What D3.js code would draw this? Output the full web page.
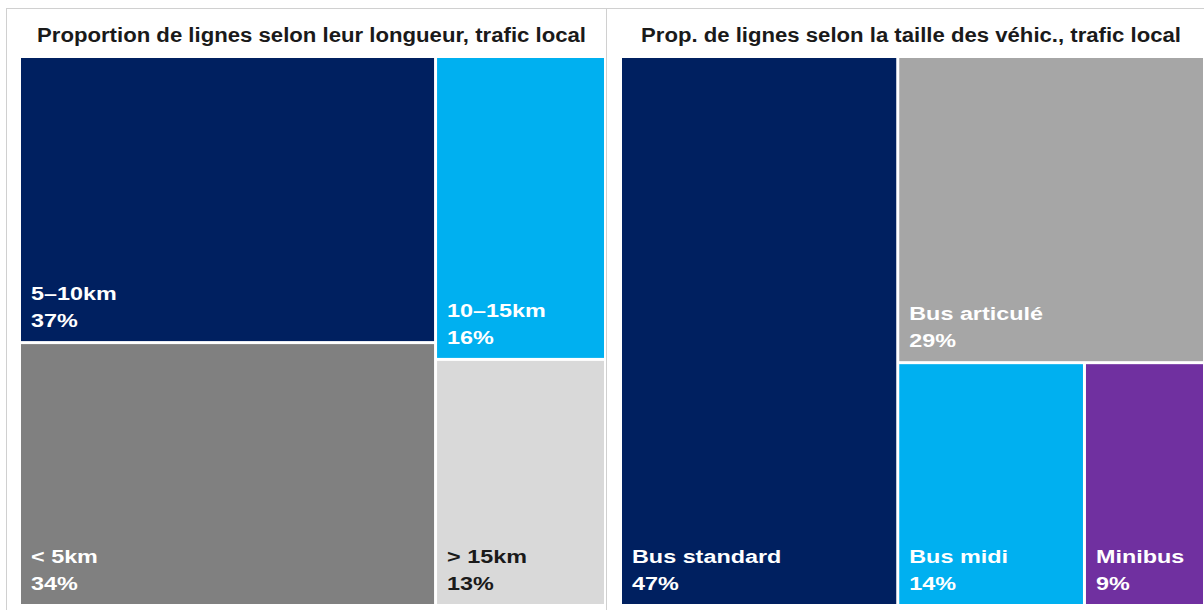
<!DOCTYPE html>
<html>
<head>
<meta charset="utf-8">
<script src="https://cdn.jsdelivr.net/npm/d3@7"></script>
<style>
  body { margin: 0; background: #fff; }
  text { font-family: "Liberation Sans", Arial, sans-serif; }
</style>
</head>
<body>
<script>
const WIDTH = 1204;
const HEIGHT = 610;

// left chart: line length
const lengthTitle = "Proportion de lignes selon leur longueur, trafic local";
const lengthLabels = ["5–10km", "< 5km", "10–15km", "> 15km"];
const lengthValues = [37, 34, 16, 13];
const lengthColors = ["#002060", "#808080", "#00b0f0", "#d9d9d9"];
const lengthTextColors = ["#fff", "#fff", "#fff", "#1a1a1a"];
const lengthGroup = [0, 0, 1, 1]; // column each tile belongs to

// right chart: vehicle size
const sizeTitle = "Prop. de lignes selon la taille des véhic., trafic local";
const sizeLabels = ["Bus standard", "Bus articulé", "Bus midi", "Minibus"];
const sizeValues = [47, 29, 14, 9];
const sizeColors = ["#002060", "#a6a6a6", "#00b0f0", "#7030a0"];
const sizeTextColors = ["#fff", "#fff", "#fff", "#fff"];
const sizeDepth = [0, 1, 2, 2]; // nesting level of each tile

var svg = d3.select("body").append("svg")
    .attr("width", WIDTH)
    .attr("height", HEIGHT);

// panel frames
svg.append("rect").attr("x", 6.5).attr("y", 8.5).attr("width", 600).attr("height", 620)
    .attr("fill", "none").attr("stroke", "#d0d0d0");
svg.append("rect").attr("x", 606.5).attr("y", 8.5).attr("width", 620).attr("height", 620)
    .attr("fill", "none").attr("stroke", "#d0d0d0");

// build tree for the length chart: two columns
function lengthTree() {
    var cols = d3.groups(lengthLabels.map((d, i) => i), i => lengthGroup[i]);
    return {
        children: cols.map(c => ({
            children: c[1].map(i => ({ idx: i, value: lengthValues[i] }))
        }))
    };
}

// build tree for the size chart: each tile nests one level deeper
function sizeTree() {
    var root = { children: [] };
    var levels = [root];
    sizeLabels.forEach((d, i) => {
        var lvl = sizeDepth[i];
        if (!levels[lvl]) {
            var g = { children: [] };
            levels[lvl - 1].children.push(g);
            levels[lvl] = g;
        }
        levels[lvl].children.push({ idx: i, value: sizeValues[i] });
    });
    return root;
}

function drawTreemap(data, box, labels, colors, textColors, title, titleX, titleLen) {
    var root = d3.hierarchy(data).sum(d => d.value || 0);
    d3.treemap()
        .tile(d3.treemapSliceDice)
        .paddingInner(3)
        .size([box[2] - box[0], box[3] - box[1]])
        (root);

    svg.append("text")
        .attr("x", titleX)
        .attr("y", 42)
        .attr("text-anchor", "middle")
        .attr("font-size", 20)
        .attr("font-weight", "bold")
        .attr("fill", "#1a1a1a")
        .attr("textLength", titleLen)
        .attr("lengthAdjust", "spacingAndGlyphs")
        .text(title);

    var leaves = svg.append("g")
        .attr("transform", `translate(${box[0]},${box[1]})`)
        .selectAll("g")
        .data(root.leaves())
        .join("g");

    leaves.append("rect")
        .attr("x", d => d.x0)
        .attr("y", d => d.y0)
        .attr("width", d => d.x1 - d.x0)
        .attr("height", d => d.y1 - d.y0)
        .attr("fill", d => colors[d.data.idx]);

    var txt = leaves.append("g")
        .attr("transform", d => `translate(${d.x0 + 10},${d.y1 - 41}) scale(1.25,1)`)
        .attr("fill", d => textColors[d.data.idx])
        .attr("font-size", 18.7)
        .attr("font-weight", "bold");
    txt.append("text").text(d => labels[d.data.idx]);
    txt.append("text").attr("y", 27).text(d => d.data.value + "%");
}

drawTreemap(lengthTree(), [21, 58, 604, 604], lengthLabels, lengthColors, lengthTextColors,
    lengthTitle, 311.5, 549);
drawTreemap(sizeTree(), [622, 58, 1203, 604], sizeLabels, sizeColors, sizeTextColors,
    sizeTitle, 911, 540);
</script>
</body>
</html>
